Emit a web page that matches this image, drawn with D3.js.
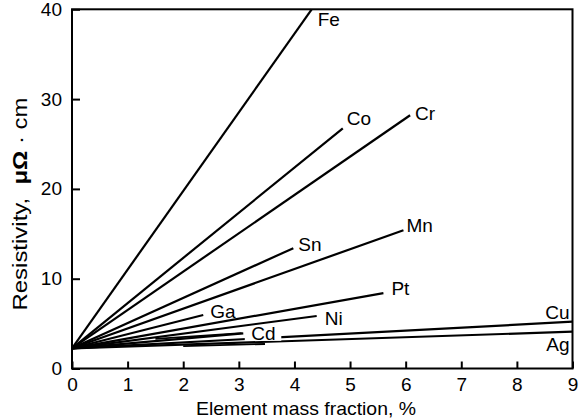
<!DOCTYPE html>
<html>
<head>
<meta charset="utf-8">
<script src="https://cdn.jsdelivr.net/npm/d3@7"></script>
<style>
  body { margin: 0; background: #fff; }
  svg { display: block; font-family: Arial, "Liberation Sans", sans-serif; }
</style>
</head>
<body>
<svg id="chart"></svg>
<script>
// Resistivity vs. element mass fraction — one straight line per element
const elements   = ["Fe", "Co", "Cr", "Sn", "Mn", "Ga", "Pt", "Ni", "Cd", "Cu", "Ag"];
const baseValue  = 2.25;   // common starting resistivity at 0 %
const endX       = [4.31, 4.87, 6.08, 3.98, 5.96, 2.36, 5.60, 4.40, 3.08, 9.0, 9.0];
const endY       = [40.0, 26.75, 28.2, 13.4, 15.4, 5.96, 8.4, 5.85, 3.92, 5.21, 4.10];

// short unlabeled segments near the base (as seen in the original)
const extraX1 = [1.5, 2.0];
const extraY1 = [3.3, 2.5];
const extraX2 = [3.05, 3.47];
const extraY2 = [3.95, 2.73];

const xTicks = [0, 1, 2, 3, 4, 5, 6, 7, 8, 9];
const yTicks = [0, 10, 20, 30, 40];

const width = 581, height = 420;
const margin = { left: 72, right: 8.5, top: 9.3, bottom: 51.5 };
const FS = 19;

const svg = d3.select("#chart")
    .attr("width", width)
    .attr("height", height);

const x = d3.scaleLinear().domain([0, 9]).range([margin.left, width - margin.right]);
const y = d3.scaleLinear().domain([0, 40]).range([height - margin.bottom, margin.top]);

// label placement (pixel offsets from line end)
const labelDx = { Fe: 6, Co: 4, Cr: 5, Sn: 5, Mn: 3, Ga: 7, Pt: 8, Ni: 8, Cd: 8, Cu: -3, Ag: -3 };
const labelDy = { Fe: 17, Co: -3, Cr: 5, Sn: 3, Mn: 1.5, Ga: 3.5, Pt: 2, Ni: 9, Cd: 7, Cu: -3, Ag: 19 };

const lineData = elements.map((name, i) => ({
    name,
    pts: [[0, baseValue], [endX[i], endY[i]]]
}));

const line = d3.line().x(d => x(d[0])).y(d => y(d[1]));

const plot = svg.append("g");

plot.selectAll("path.el")
    .data(lineData)
    .join("path")
    .attr("class", "el")
    .attr("d", d => line(d.pts))
    .attr("fill", "none")
    .attr("stroke", "#000")
    .attr("stroke-width", 2.2);

plot.selectAll("path.extra")
    .data(extraX1.map((v, i) => [[v, extraY1[i]], [extraX2[i], extraY2[i]]]))
    .join("path")
    .attr("class", "extra")
    .attr("d", line)
    .attr("fill", "none")
    .attr("stroke", "#000")
    .attr("stroke-width", 1.8);

// labels; Cd gets a white patch so the Cu line breaks around it
lineData.forEach((d, i) => {
    const px = x(endX[i]) + labelDx[d.name];
    const py = y(endY[i]) + labelDy[d.name];
    const anchor = endX[i] >= 9 ? "end" : "start";
    if (d.name === "Cd") {
        plot.append("rect")
            .attr("x", px - 6.5)
            .attr("y", py - 13)
            .attr("width", 36.5)
            .attr("height", 13.5)
            .attr("fill", "#fff");
    }
    plot.append("text")
        .attr("x", px)
        .attr("y", py)
        .attr("text-anchor", anchor)
        .attr("font-size", FS)
        .attr("fill", "#000")
        .text(d.name);
});

// frame
svg.append("rect")
    .attr("x", x(0))
    .attr("y", y(40))
    .attr("width", x(9) - x(0))
    .attr("height", y(0) - y(40))
    .attr("fill", "none")
    .attr("stroke", "#000")
    .attr("stroke-width", 2);

// axes with inward ticks
const xAxis = svg.append("g")
    .attr("transform", `translate(0,${y(0)})`)
    .call(d3.axisBottom(x).tickValues(xTicks).tickFormat(d3.format("d")).tickSizeInner(-7).tickSizeOuter(0).tickPadding(9));
xAxis.select(".domain").remove();
xAxis.selectAll("line").attr("stroke-width", 2);
xAxis.selectAll("text").attr("font-size", FS).attr("font-family", "Arial, 'Liberation Sans', sans-serif").attr("fill", "#000");

const yAxis = svg.append("g")
    .attr("transform", `translate(${x(0)},0)`)
    .call(d3.axisLeft(y).tickValues(yTicks).tickSizeInner(-8).tickSizeOuter(0).tickPadding(10));
yAxis.select(".domain").remove();
yAxis.selectAll("line").attr("stroke-width", 2);
yAxis.selectAll("text").attr("font-size", FS).attr("font-family", "Arial, 'Liberation Sans', sans-serif").attr("fill", "#000");

// axis titles
svg.append("text")
    .attr("x", 306)
    .attr("y", 415)
    .attr("text-anchor", "middle")
    .attr("font-size", FS)
    .attr("textLength", 220)
    .attr("lengthAdjust", "spacingAndGlyphs")
    .attr("fill", "#000")
    .text("Element mass fraction, %");

const yTitle = svg.append("text")
    .attr("transform", `translate(27,${204}) rotate(-90)`)
    .attr("text-anchor", "middle")
    .attr("font-size", 20)
    .attr("textLength", 213)
    .attr("lengthAdjust", "spacingAndGlyphs")
    .attr("fill", "#000");
yTitle.append("tspan").text("Resistivity,\u00a0\u00a0");
yTitle.append("tspan").attr("font-weight", "bold").text("\u03bc\u03a9");
yTitle.append("tspan").text(" \u00b7 cm");
</script>
</body>
</html>
